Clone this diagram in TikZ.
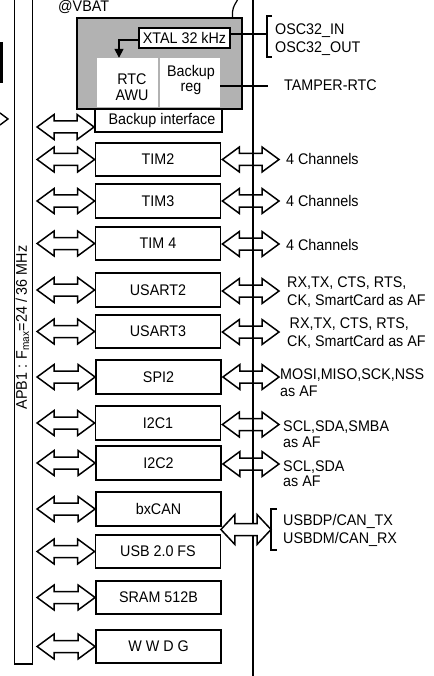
\documentclass[tikz,border=0pt]{standalone}
\usepackage{fontspec}
\setmainfont{Liberation Sans}[FakeStretch=0.93]
\usetikzlibrary{calc,arrows.meta}
\tikzset{
  pbox/.style={draw, line width=1.8pt, fill=white, minimum width=125pt, minimum height=33.5pt, inner sep=0pt},
  harrow/.style={draw, line width=1.5pt, line join=miter, miter limit=10},
  wire/.style={line width=1.8pt},
  lbl/.style={anchor=base west, inner sep=0pt},
}
\newcommand\busarrow[2]{%
  \draw[harrow] let \p1=(bus.east), \p2=(#1.west) in
  (\x1+4pt,\y2+#2) -- (\x1+21pt,\y2+#2+12.5pt) -- (\x1+21pt,\y2+#2+6pt) --
  (\x2-17pt,\y2+#2+6pt) -- (\x2-17pt,\y2+#2+12.5pt) -- (\x2,\y2+#2) --
  (\x2-17pt,\y2+#2-12.5pt) -- (\x2-17pt,\y2+#2-6pt) -- (\x1+21pt,\y2+#2-6pt) --
  (\x1+21pt,\y2+#2-12.5pt) -- cycle;}
\newcommand\outarrow[2]{%
  \draw[harrow] let \p1=(#1.east), \p2=(railtop) in
  (\x1+1pt,\y1+#2) -- (\x1+18pt,\y1+#2+12.5pt) -- (\x1+18pt,\y1+#2+6pt) --
  (\x2+9pt,\y1+#2+6pt) -- (\x2+9pt,\y1+#2+12.5pt) -- (\x2+26pt,\y1+#2) --
  (\x2+9pt,\y1+#2-12.5pt) -- (\x2+9pt,\y1+#2-6pt) -- (\x1+18pt,\y1+#2-6pt) --
  (\x1+18pt,\y1+#2-12.5pt) -- cycle;}
\begin{document}
\begin{tikzpicture}[x=1pt,y=-1pt,font=\fontsize{15.4pt}{16pt}\selectfont]
\useasboundingbox (0,0) rectangle (433,676);
\clip (0,0) rectangle (433,676);

% fragments at the left edge
\fill (0,42) rectangle (2.5,83);
\draw[line width=1.4pt] (0,113) -- (8,119) -- (0,125);

% APB1 bus
\node[draw, line width=1.6pt, minimum width=18pt, minimum height=700pt, inner sep=0pt, anchor=south west] (bus) at (13.5,665) {};
\node[rotate=90, inner sep=0pt] (apb) at (22.5,327.5) {APB1 : F\textsubscript{max}=24 / 36 MHz};

% right rail
\coordinate (railtop) at (253,-2);
\coordinate (railbot) at (253,678);
\draw[wire] (railtop) -- (railbot);

% VBAT domain
\node[draw, line width=2pt, fill=black!30, minimum width=165pt, minimum height=91pt, inner sep=0pt] (vbat) at (159.5,63.5) {};
\node[anchor=base west, inner sep=0pt] (vbatlbl) at (58,12) {@VBAT};
\coordinate (vbattop) at (238,-1);
\draw[line width=1.2pt] ([xshift=73pt]vbat.north) -- ++(0,-5) .. controls (233,6) and (236,3) .. (vbattop);
\node[draw, line width=1.6pt, fill=white, minimum width=91pt, minimum height=20pt, inner sep=0pt] (xtal) at (184.5,38) {XTAL 32 kHz};
\node[fill=white, minimum width=61pt, minimum height=49pt, inner sep=0pt] (rtc) at (127.5,82.5) {};
\node[align=center, inner sep=0pt, font=\fontsize{15.4pt}{16pt}\selectfont] (rtctxt) at (132,87) {RTC\\AWU};
\node[fill=white, minimum width=60pt, minimum height=49pt, inner sep=0pt] (breg) at (190,82.5) {};
\node[align=center, inner sep=0pt, font=\fontsize{15.4pt}{15pt}\selectfont] (bregtxt) at (191,80) {Backup\\reg};
\draw[wire, line width=1.6pt, -{Triangle[length=9pt,width=9pt]}] ([yshift=-2pt]xtal.west) -| ([xshift=-8.5pt]rtc.north);
\node[draw, line width=1.8pt, fill=white, minimum width=127pt, minimum height=23pt, inner sep=0pt] (bif) at (158.5,120.5) {\hspace{7pt}Backup interface};

% OSC32
\coordinate (oscbr) at (267,34);
\draw[wire] ([yshift=4pt]xtal.east) -- (oscbr);
\draw[wire] (272,16) -- (267,16) -- (267,57) -- (272,57);
\node[lbl] (osc1) at (275,35) {OSC32\_IN};
\node[lbl] (osc2) at (275,52.5) {OSC32\_OUT};

% tamper
\coordinate (tamp) at (268,86);
\draw[wire] ([yshift=-3.5pt]breg.east) -- (tamp);
\node[lbl] (tamptxt) at (284,91) {TAMPER-RTC};

% peripherals
\node[pbox] (tim2) at (158,159.5) {TIM2};
\node[pbox] (tim3) at (158,201) {TIM3};
\node[pbox] (tim4) at (158,243.5) {TIM 4};
\node[pbox] (usart2) at (158,290) {USART2};
\node[pbox] (usart3) at (158,331.5) {USART3};
\node[pbox] (spi2) at (158.5,377) {SPI2};
\node[pbox] (i2c1) at (158,423) {I2C1};
\node[pbox] (i2c2) at (158.5,463) {I2C2};
\node[pbox] (can) at (158.5,509) {bxCAN};
\node[pbox] (usb) at (158,551.5) {USB 2.0 FS};
\node[pbox] (sram) at (158.5,597.5) {SRAM 512B};
\node[pbox] (wwdg) at (158.5,646.5) {W W D G};

% bus arrows
\busarrow{bif}{-6.5pt}
\busarrow{tim2}{0pt}
\busarrow{tim3}{0pt}
\busarrow{tim4}{0pt}
\busarrow{usart2}{0pt}
\busarrow{usart3}{0pt}
\busarrow{spi2}{0pt}
\busarrow{i2c1}{0pt}
\busarrow{i2c2}{0pt}
\busarrow{can}{0pt}
\busarrow{usb}{0pt}
\busarrow{sram}{0pt}
\busarrow{wwdg}{0pt}

% output arrows
\outarrow{tim2}{0pt}
\outarrow{tim3}{0pt}
\outarrow{tim4}{-0.5pt}
\outarrow{usart2}{-1pt}
\outarrow{usart3}{-0.5pt}
\outarrow{spi2}{0pt}
\outarrow{i2c1}{-1.5pt}
\outarrow{i2c2}{-1pt}

% CAN / USB arrow
\coordinate (canbr) at (271,529.5);
\draw[harrow, fill=white] let \p1=(can.south east), \p3=(canbr) in
  (\x1-1pt,\y3) -- (\x1+13pt,\y3+15pt) -- (\x1+13pt,\y3+6pt) --
  (\x3-14pt,\y3+6pt) -- (\x3-14pt,\y3+15pt) -- (\x3,\y3) --
  (\x3-14pt,\y3-15pt) -- (\x3-14pt,\y3-6pt) -- (\x1+13pt,\y3-6pt) --
  (\x1+13pt,\y3-15pt) -- cycle;
\draw[wire] (277,509) -- (271,509) -- (271,550) -- (277,550);
\node[lbl] (can1) at (283,525.5) {USBDP/CAN\_TX};
\node[lbl] (can2) at (283,543.5) {USBDM/CAN\_RX};

% labels
\node[lbl] (l2) at (286,165) {4 Channels};
\node[lbl] (l3) at (286,206.5) {4 Channels};
\node[lbl] (l4) at (286,250) {4 Channels};
\node[lbl] (u2a) at (287,287.5) {RX,TX, CTS, RTS,};
\node[lbl] (u2b) at (287,305) {CK, SmartCard as AF};
\node[lbl] (u3a) at (289.5,328.5) {RX,TX, CTS, RTS,};
\node[lbl] (u3b) at (287,346.5) {CK, SmartCard as AF};
\node[lbl] (s1) at (280,379.5) {MOSI,MISO,SCK,NSS};
\node[lbl] (s2) at (280,396) {as AF};
\node[lbl] (i1a) at (283,431) {SCL,SDA,SMBA};
\node[lbl] (i1b) at (283,447) {as AF};
\node[lbl] (i2a) at (283,471.5) {SCL,SDA};
\node[lbl] (i2b) at (283,486) {as AF};
\end{tikzpicture}
\end{document}
